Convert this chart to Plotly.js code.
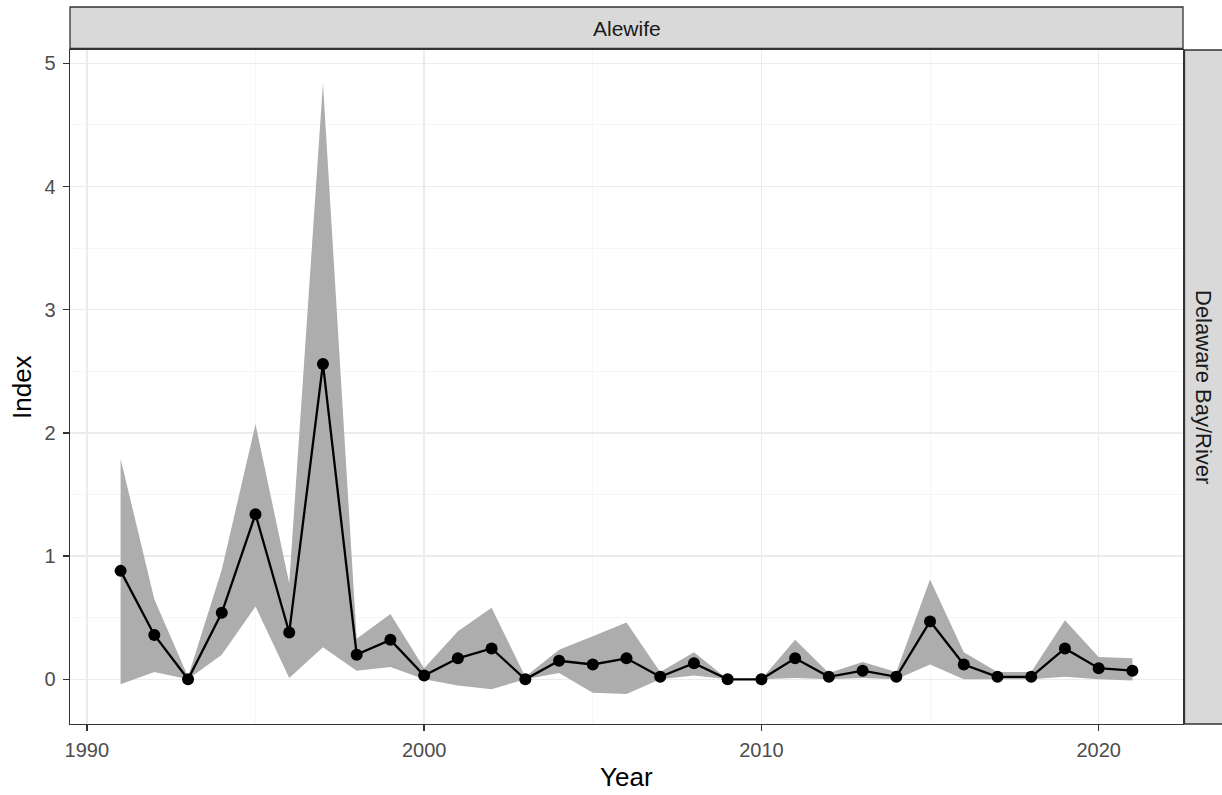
<!DOCTYPE html>
<html>
<head>
<meta charset="utf-8">
<script src="https://cdn.plot.ly/plotly-3.0.1.min.js"></script>
<style>html,body{margin:0;padding:0;background:#fff;}#chart{width:1222px;height:795px;}</style>
</head>
<body>
<div id="chart"></div>
<script>
const years = [1991,1992,1993,1994,1995,1996,1997,1998,1999,2000,2001,2002,2003,2004,2005,2006,2007,2008,2009,2010,2011,2012,2013,2014,2015,2016,2017,2018,2019,2020,2021];
const indexValues = [0.88,0.36,0.00,0.54,1.34,0.38,2.56,0.20,0.32,0.03,0.17,0.25,0.00,0.15,0.12,0.17,0.02,0.13,0.00,0.00,0.17,0.02,0.07,0.02,0.47,0.12,0.02,0.02,0.25,0.09,0.07];
const upperCI = [1.79,0.65,0.02,0.89,2.07,0.78,4.84,0.33,0.53,0.09,0.39,0.58,0.02,0.24,0.35,0.46,0.06,0.22,0.00,0.00,0.32,0.05,0.14,0.06,0.81,0.22,0.06,0.06,0.48,0.18,0.17];
const lowerCI = [-0.04,0.06,0.00,0.20,0.59,0.01,0.26,0.07,0.10,0.00,-0.05,-0.08,0.00,0.05,-0.11,-0.12,0.00,0.03,0.00,0.00,0.01,0.00,0.01,0.00,0.12,0.00,0.00,0.00,0.02,0.00,-0.01];
const xTicks = [1990, 2000, 2010, 2020];
const yTicks = [0, 1, 2, 3, 4, 5];
const facetRow = "Delaware Bay/River";
const facetCol = "Alewife";
const xTitle = "Year";
const yTitle = "Index";

const traces = [
  {x: years, y: lowerCI, type: 'scatter', mode: 'lines', line: {width: 0, color: 'rgba(0,0,0,0)'}, hoverinfo: 'skip', showlegend: false},
  {x: years, y: upperCI, type: 'scatter', mode: 'lines', fill: 'tonexty', fillcolor: 'rgb(173,173,173)', line: {width: 0, color: 'rgba(0,0,0,0)'}, hoverinfo: 'skip', showlegend: false},
  {x: years, y: indexValues, type: 'scatter', mode: 'lines+markers', line: {color: '#000', width: 2.3}, marker: {color: '#000', size: 12}, showlegend: false}
];

const H = 674, W = 1113;
const layout = {
  width: 1222, height: 795,
  margin: {l: 70, r: 39, t: 50, b: 71},
  paper_bgcolor: '#fff', plot_bgcolor: '#fff',
  font: {family: 'Liberation Sans, Arial, sans-serif', color: '#4d4d4d'},
  showlegend: false,
  xaxis: {
    range: [1989.5, 2022.5],
    tickvals: xTicks,
    ticks: 'outside', ticklen: 6, tickcolor: '#333', tickwidth: 1.3,
    ticklabelstandoff: 2,
    tickfont: {size: 20, color: '#4d4d4d'},
    showgrid: true, gridcolor: '#ebebeb', gridwidth: 1.3,
    minor: {tickvals: [1995, 2005, 2015], showgrid: true, gridcolor: '#f4f4f4', gridwidth: 0.8, ticks: ''},
    zeroline: false,
    showline: true, linecolor: '#333', linewidth: 1.3, mirror: true
  },
  yaxis: {
    range: [-0.363, 5.108],
    tickvals: yTicks,
    ticks: 'outside', ticklen: 6, tickcolor: '#333', tickwidth: 1.3,
    ticklabelstandoff: 3,
    tickfont: {size: 20, color: '#4d4d4d'},
    showgrid: true, gridcolor: '#ebebeb', gridwidth: 1.3,
    minor: {tickvals: [0.5, 1.5, 2.5, 3.5, 4.5], showgrid: true, gridcolor: '#f4f4f4', gridwidth: 0.8, ticks: ''},
    zeroline: false,
    showline: true, linecolor: '#333', linewidth: 1.3, mirror: true
  },
  shapes: [
    {type: 'rect', xref: 'paper', yref: 'paper', x0: 0, x1: 1, y0: 1 + 1.5/H, y1: 1 + 43/H, fillcolor: '#d9d9d9', line: {color: '#333', width: 1.3}, layer: 'above'},
    {type: 'rect', xref: 'paper', yref: 'paper', x0: 1 + 1.5/W, x1: 1 + 45/W, y0: 0, y1: 1, fillcolor: '#d9d9d9', line: {color: '#333', width: 1.3}, layer: 'above'}
  ],
  annotations: [
    {text: facetCol, xref: 'paper', yref: 'paper', x: 0.5, y: 1 + 22/H, showarrow: false, xanchor: 'center', yanchor: 'middle', font: {size: 21, color: '#1a1a1a'}},
    {text: facetRow, xref: 'paper', yref: 'paper', x: 1 + 21/W, y: 0.5, showarrow: false, xanchor: 'center', yanchor: 'middle', textangle: 90, font: {size: 22, color: '#1a1a1a'}},
    {text: xTitle, xref: 'paper', yref: 'paper', x: 0.5, y: -53/H, showarrow: false, xanchor: 'center', yanchor: 'middle', font: {size: 26, color: '#000'}},
    {text: yTitle, xref: 'paper', yref: 'paper', x: -48/W, y: 0.5, showarrow: false, xanchor: 'center', yanchor: 'middle', textangle: -90, font: {size: 26, color: '#000'}}
  ]
};

Plotly.newPlot('chart', traces, layout, {displayModeBar: false, staticPlot: true});
</script>
</body>
</html>
